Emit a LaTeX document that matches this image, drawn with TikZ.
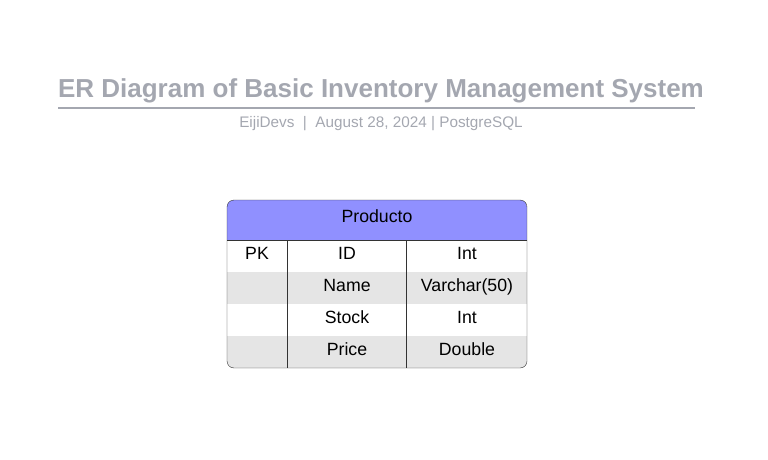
\documentclass[tikz,border=0pt]{standalone}
\usepackage{fontspec}
\setmainfont{Liberation Sans}
\setsansfont{Liberation Sans}
\usepackage{tikz}
\usetikzlibrary{positioning, calc}

\definecolor{titlegray}{HTML}{A4A7B0}
\definecolor{headblue}{HTML}{9090FF}
\definecolor{rowgray}{HTML}{E5E5E5}
\definecolor{tableline}{HTML}{333333}

\tikzset{
    title/.style={font=\fontsize{26}{30}\selectfont\bfseries, text=titlegray},
    subtitle/.style={font=\fontsize{15.3}{18}\selectfont, text=titlegray},
    cell/.style={font=\fontsize{17.7}{21}\selectfont, text=black, inner sep=0pt,
        text height=13pt, text depth=4pt}
}

\begin{document}
\begin{tikzpicture}[x=1pt, y=-1pt]
    \useasboundingbox (0,0) rectangle (768,460);

    \node[title] (title) at (381,91) {ER Diagram of Basic Inventory Management System};
    \coordinate (ruleL) at (58,108);
    \coordinate (ruleR) at (695,108);
    \draw[titlegray, line width=2pt] (ruleL) -- (ruleR);
    \node[subtitle] (sub) at (381,124) {EijiDevs\ \ |\ \ August 28, 2024 | PostgreSQL};

    % table Producto
    \begin{scope}
        \clip[rounded corners=7] (227,200) rectangle (527,368);
        \fill[headblue] (227,200) rectangle (527,240);
        \fill[rowgray] (227,272) rectangle (527,304);
        \fill[rowgray] (227,336) rectangle (527,368);
    \end{scope}
    \draw[tableline, rounded corners=7] (227,200) rectangle (527,368);
    \draw[tableline] (227,240) -- (527,240);
    \draw[tableline] (287,240) -- (287,368);
    \draw[tableline] (406,240) -- (406,368);

    \node[cell] (prod) at (377,218) {Producto};
    \node[cell] (pk) at (257,255) {PK};
    \node[cell] (id) at (347,255) {ID};
    \node[cell] (idtype) at (467,255) {Int};
    \node[cell] (name) at (347,287) {Name};
    \node[cell] (nametype) at (467,287) {Varchar(50)};
    \node[cell] (stock) at (347,319) {Stock};
    \node[cell] (stocktype) at (467,319) {Int};
    \node[cell] (price) at (347,351) {Price};
    \node[cell] (pricetype) at (467,351) {Double};
\end{tikzpicture}
\end{document}
